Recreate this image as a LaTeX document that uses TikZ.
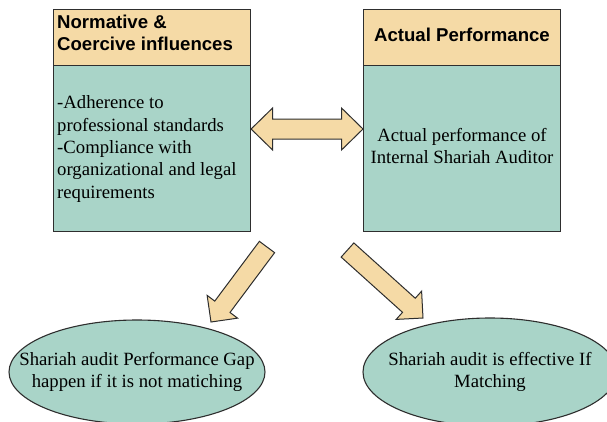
\documentclass[tikz,border=0pt]{standalone}
\usepackage{fontspec}
\setmainfont{Liberation Serif}
\newfontfamily\headfont{Liberation Sans}
\usetikzlibrary{calc,shapes.geometric}
\definecolor{boxtan}{HTML}{F5DAA6}
\definecolor{boxteal}{HTML}{A9D4C8}
\definecolor{edgegray}{HTML}{2E2E2E}
\tikzset{
  outline/.style={draw=edgegray, line width=1.1pt},
  headbox/.style={outline, fill=boxtan, rectangle, inner sep=0pt, minimum width=197pt, minimum height=56pt, anchor=north west},
  bodybox/.style={outline, fill=boxteal, rectangle, inner sep=0pt, minimum width=197pt, minimum height=166pt, anchor=north west},
  headtxt/.style={font=\headfont\bfseries\fontsize{18.6}{21.6}\selectfont, inner sep=0pt, align=left},
  bodytxt/.style={font=\fontsize{18.7}{22.4}\selectfont},
  oval/.style={outline, fill=boxteal, ellipse, inner sep=0pt},
  ovaltxt/.style={inner sep=0pt, font=\fontsize{18.7}{22}\selectfont, align=center},
  arrowbox/.style={draw=edgegray, line width=1pt, fill=boxtan, line join=miter},
}
\newcommand{\blockarrow}[5]{%
  \coordinate (ba-c) at ($(#2)!#5!(#1)$);
  \filldraw[arrowbox] ($(#1)!#3!90:(#2)$) -- ($(ba-c)!#3!90:(#2)$) -- ($(ba-c)!#4!90:(#2)$) -- (#2)
    -- ($(ba-c)!#4!-90:(#2)$) -- ($(ba-c)!#3!-90:(#2)$) -- ($(#1)!#3!-90:(#2)$) -- cycle;
}
\newcommand{\doubleblockarrow}[5]{%
  \coordinate (da-c1) at ($(#1)!#5!(#2)$);
  \coordinate (da-c2) at ($(#2)!#5!(#1)$);
  \filldraw[arrowbox] (#1) -- ($(da-c1)!#4!90:(#2)$) -- ($(da-c1)!#3!90:(#2)$) -- ($(da-c2)!#3!90:(#2)$)
    -- ($(da-c2)!#4!90:(#2)$) -- (#2) -- ($(da-c2)!#4!-90:(#2)$) -- ($(da-c2)!#3!-90:(#2)$)
    -- ($(da-c1)!#3!-90:(#2)$) -- ($(da-c1)!#4!-90:(#2)$) -- cycle;
}
\begin{document}
\begin{tikzpicture}[x=1pt, y=-1pt]
\useasboundingbox (0,0) rectangle (607,421);
\fill[white] (0,0) rectangle (607,421);

% left column
\node[headbox] (lhead) at (53,9) {};
\node[headtxt, anchor=north west] (ltitle) at (57,14.8) {Normative \&\\Coercive influences};
\node[bodybox] (lbody) at (53,65) {};
\node[bodytxt, anchor=west, align=left, inner sep=0pt] (ltext) at (57,149)
  {-Adherence to\\professional standards\\-Compliance with\\organizational and legal\\requirements};

% right column
\node[headbox] (rhead) at (363,9) {};
\node[headtxt, anchor=center] (rtitle) at (462,35) {Actual Performance};
\node[bodybox] (rbody) at (363,65) {};
\node[bodytxt, anchor=center, align=center, inner sep=0pt, font=\fontsize{18.7}{21.7}\selectfont] (rtext) at (462,146)
  {Actual performance of\\Internal Shariah Auditor};

% ellipses
\node[oval, minimum width=256pt, minimum height=104pt] (gap) at (137,372) {};
\node[ovaltxt] (gaptxt) at (gap.center) {Shariah audit Performance Gap\\happen if it is not matiching};
\node[oval, minimum width=254pt, minimum height=108pt] (eff) at (490,372) {};
\node[ovaltxt] (efftxt) at (eff.center) {Shariah audit is effective If\\Matching};

% double arrow between boxes
\coordinate (ylvl) at (0,129);
\coordinate (dA) at (lbody.east |- ylvl);
\coordinate (dB) at (rbody.west |- ylvl);
\doubleblockarrow{dA}{dB}{10pt}{21pt}{21.5pt}

% diagonal arrows
\coordinate (t1) at (267,247);
\coordinate (p1) at (211,322);
\blockarrow{t1}{p1}{9.5pt}{19pt}{19pt}
\coordinate (t2) at (347.5,250);
\coordinate (p2) at (423,318);
\blockarrow{t2}{p2}{9.5pt}{19pt}{19pt}
\end{tikzpicture}
\end{document}
